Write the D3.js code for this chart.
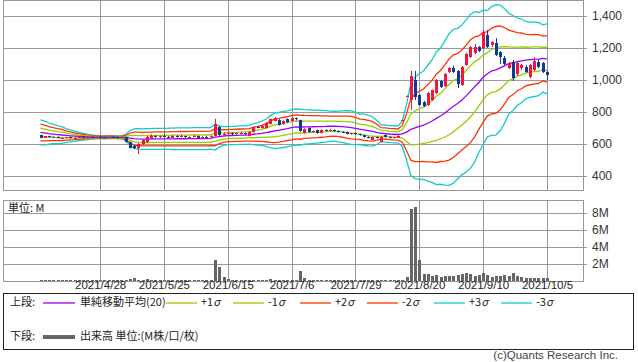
<!DOCTYPE html>
<html>
<head>
<meta charset="utf-8">
<script src="https://cdn.jsdelivr.net/npm/d3@7"></script>
<style>
  body { margin: 0; background: #fff; }
  svg { display: block; font-family: "Noto Sans CJK JP", "Noto Sans", sans-serif; }
  .num { font-family: "Liberation Sans", Arial, sans-serif; }
</style>
</head>
<body>
<div id="chart"></div>
<script>
// ---- data ----
const dateLabels = ['2021/4/28', '2021/5/25', '2021/6/15', '2021/7/6', '2021/7/29', '2021/8/20', '2021/9/10', '2021/10/5'];
const dateIndex = [14, 29, 44, 59, 74, 89, 104, 119];
const priceTicks = [400, 600, 800, 1000, 1200, 1400];
const volTicks = [2, 4, 6, 8];

// closes before the first visible day (feed the 20-day average at the left edge)
const priorCloses = [715, 722, 708, 700, 692, 700, 688, 680, 676, 670, 665, 660, 655, 650, 648, 645, 642, 646, 644];

const opens = [
  655, 640, 648, 643, 646, 638, 640, 643, 637, 640, 645, 638, 642, 640, 646, 642, 639, 645, 643, 640,
  642, 612, 590, 578, 598, 612, 640, 650, 644, 648, 645, 640, 652, 644, 648, 642, 646, 650, 640, 644,
  642, 650, 705, 660, 665, 668, 662, 667, 670, 652, 675, 706, 700, 700, 725, 744, 752, 725, 756, 744,
  760, 750, 669, 700, 676, 687, 669, 687, 684, 690, 680, 676, 675, 664, 668, 660, 656, 644, 628, 642,
  614, 656, 644, 638, 640, 750, 900, 875, 1000, 906, 862, 844, 875, 919, 994, 962, 1050, 1075, 1056, 969,
  1094, 1144, 1169, 1206, 1200, 1281, 1219, 1231, 1175, 1137, 1075, 1112, 1037, 1075, 1081, 1019, 1062, 1112, 1106, 1050
];
const highs = [
  658, 650, 652, 650, 648, 644, 645, 646, 642, 648, 648, 644, 646, 648, 650, 645, 648, 650, 647, 646,
  644, 615, 594, 606, 628, 650, 662, 655, 652, 662, 650, 656, 655, 660, 652, 648, 656, 652, 648, 650,
  654, 758, 712, 672, 675, 672, 670, 676, 672, 680, 710, 712, 716, 735, 760, 768, 756, 748, 760, 766,
  765, 752, 698, 704, 684, 690, 690, 692, 694, 692, 686, 680, 678, 670, 672, 664, 658, 648, 646, 646,
  648, 660, 648, 645, 654, 753, 904, 1058, 1056, 912, 868, 925, 940, 1006, 1000, 1044, 1080, 1090, 1062, 1088,
  1170, 1212, 1225, 1212, 1312, 1312, 1244, 1262, 1180, 1150, 1112, 1125, 1112, 1100, 1094, 1100, 1144, 1131, 1112, 1056
];
const lows = [
  638, 638, 640, 640, 636, 634, 636, 635, 630, 638, 636, 635, 637, 638, 640, 636, 637, 640, 638, 636,
  610, 572, 568, 538, 592, 608, 636, 640, 638, 642, 636, 638, 640, 642, 638, 636, 642, 636, 634, 638,
  640, 648, 650, 655, 660, 656, 658, 662, 658, 648, 672, 698, 696, 696, 722, 740, 715, 720, 732, 740,
  748, 676, 664, 672, 670, 664, 666, 678, 680, 676, 672, 668, 660, 658, 658, 652, 640, 636, 624, 634,
  610, 640, 636, 634, 638, 747, 896, 812, 875, 838, 830, 838, 870, 912, 950, 956, 1044, 1044, 950, 962,
  1088, 1138, 1162, 1175, 1194, 1200, 1206, 1150, 1100, 1094, 1069, 994, 1025, 1062, 1044, 1012, 1056, 1075, 1044, 1000
];
const closes = [
  640, 648, 642, 646, 638, 640, 643, 637, 640, 645, 638, 642, 640, 646, 642, 639, 645, 643, 640, 644,
  614, 578, 575, 600, 622, 645, 650, 644, 648, 645, 640, 652, 644, 648, 642, 646, 650, 640, 644, 642,
  648, 728, 656, 665, 668, 662, 667, 670, 664, 675, 706, 702, 712, 731, 756, 762, 719, 744, 737, 762,
  755, 681, 694, 675, 680, 669, 687, 684, 690, 680, 676, 672, 664, 666, 660, 656, 644, 640, 642, 638,
  644, 644, 638, 642, 650, 750, 900, 1025, 894, 844, 838, 919, 937, 1000, 956, 1037, 1075, 1050, 975, 1081,
  1162, 1206, 1206, 1181, 1300, 1206, 1237, 1156, 1144, 1100, 1106, 1012, 1106, 1094, 1050, 1094, 1119, 1081, 1050, 1031
];
// volume in millions of shares
const volumes = [
  0.03, 0.02, 0.03, 0.02, 0.03, 0.02, 0.02, 0.03, 0.02, 0.03, 0.02, 0.03, 0.02, 0.02, 0.03, 0.02, 0.03, 0.02, 0.03, 0.02,
  0.12, 0.18, 0.30, 0.12, 0.08, 0.20, 0.08, 0.05, 0.14, 0.06, 0.15, 0.04, 0.03, 0.04, 0.03, 0.05, 0.03, 0.04, 0.03, 0.05,
  0.10, 2.50, 1.60, 0.45, 0.20, 0.08, 0.05, 0.04, 0.15, 0.05, 0.04, 0.05, 0.06, 0.15, 0.18, 0.15, 0.05, 0.04, 0.05, 0.04,
  0.05, 1.20, 0.35, 0.08, 0.05, 0.04, 0.03, 0.04, 0.03, 0.03, 0.04, 0.03, 0.03, 0.04, 0.03, 0.03, 0.04, 0.05, 0.04, 0.05,
  0.06, 0.05, 0.04, 0.06, 0.10, 0.12, 0.45, 8.50, 8.70, 2.50, 0.80, 0.80, 0.60, 0.70, 0.50, 0.60, 0.60, 0.60, 0.70, 0.80,
  1.00, 0.80, 0.60, 0.70, 0.95, 0.70, 0.50, 0.55, 0.55, 0.70, 0.60, 1.00, 0.60, 0.45, 0.40, 0.35, 0.35, 0.30, 0.35, 0.30
];

const legendBands = [
  { label: '+1', color: '#99cc00' }, { label: '-1', color: '#99cc00' },
  { label: '+2', color: '#ff3300' }, { label: '-2', color: '#ff3300' },
  { label: '+3', color: '#11cccc' }, { label: '-3', color: '#11cccc' }
];

// ---- Bollinger (20-day simple average, population sigma) ----
const allCloses = priorCloses.concat(closes);
const bands = closes.map((c, i) => {
  const win = allCloses.slice(i, i + 20);
  const mean = d3.mean(win);
  const sd = Math.sqrt(d3.mean(win, v => (v - mean) * (v - mean)));
  return { i, mean, sd };
});

// ---- layout ----
const W = 638, H = 362;
const L = 3, R = 583;
const top1 = 0, bot1 = 190;
const top2 = 200, bot2 = 281;
const UP = '#f2163f', DOWN = '#0e3a9a', GRID = '#999';

const svg = d3.select('#chart').append('svg').attr('width', W).attr('height', H);

const x = d3.scaleLinear().domain([0, 119]).range([40.5, 547]);
const y = d3.scaleLinear().domain([312.5, 1500]).range([bot1, top1]);
const yv = d3.scaleLinear().domain([0, 9.53]).range([bot2, top2]);
const sx = v => Math.round(v) + 0.5;

svg.append('clipPath').attr('id', 'clipTop')
  .append('rect').attr('x', L).attr('y', top1).attr('width', R - L).attr('height', bot1 - top1);

// grids (upper)
const gTop = svg.append('g');
gTop.selectAll('.hg').data(priceTicks).join('line')
  .attr('x1', L).attr('x2', R + 4).attr('y1', d => sx(y(d))).attr('y2', d => sx(y(d)))
  .attr('stroke', GRID);
gTop.selectAll('.vg').data(dateIndex).join('line')
  .attr('x1', d => sx(x(d))).attr('x2', d => sx(x(d))).attr('y1', top1).attr('y2', bot1)
  .attr('stroke', GRID);
gTop.append('rect').attr('x', L + 0.5).attr('y', top1 + 0.5).attr('width', R - L).attr('height', bot1 - top1)
  .attr('fill', 'none').attr('stroke', GRID);

// price axis labels
svg.append('g').attr('transform', `translate(${R},0)`)
  .call(d3.axisRight(y).tickValues(priceTicks).tickFormat(d3.format(',')).tickSize(0).tickPadding(9))
  .call(g => g.select('.domain').remove())
  .selectAll('text').attr('class', 'num').attr('fill', '#333').style('font-size', '12px');

// bands
const plot = svg.append('g').attr('clip-path', 'url(#clipTop)');
const bandDefs = [
  { k: 3, color: '#11cccc' }, { k: -3, color: '#11cccc' },
  { k: 2, color: '#ff3300' }, { k: -2, color: '#ff3300' },
  { k: 1, color: '#99cc00' }, { k: -1, color: '#99cc00' },
  { k: 0, color: '#9900ff' }
];
bandDefs.forEach(b => {
  plot.append('path').datum(bands)
    .attr('fill', 'none').attr('stroke', b.color).attr('stroke-width', 1.3)
    .attr('d', d3.line().x(d => x(d.i)).y(d => y(d.mean + b.k * d.sd)));
});

// candles
const candles = plot.selectAll('.cdl').data(closes.map((c, i) => ({ i, o: opens[i], h: highs[i], l: lows[i], c })))
  .join('g');
candles.append('line')
  .attr('x1', d => sx(x(d.i))).attr('x2', d => sx(x(d.i)))
  .attr('y1', d => y(d.h)).attr('y2', d => y(d.l))
  .attr('stroke', d => d.c >= d.o ? UP : DOWN);
candles.append('rect')
  .attr('x', d => Math.round(x(d.i)) - 1).attr('width', 3)
  .attr('y', d => y(Math.max(d.o, d.c)))
  .attr('height', d => Math.max(1, Math.abs(y(d.o) - y(d.c))))
  .attr('fill', d => d.c >= d.o ? UP : DOWN)
  .attr('shape-rendering', 'crispEdges');

// ---- lower panel: volume ----
const gBot = svg.append('g');
gBot.selectAll('.hg').data(volTicks).join('line')
  .attr('x1', L).attr('x2', R + 4).attr('y1', d => sx(yv(d))).attr('y2', d => sx(yv(d)))
  .attr('stroke', GRID);
gBot.selectAll('.vg').data(dateIndex).join('line')
  .attr('x1', d => sx(x(d))).attr('x2', d => sx(x(d))).attr('y1', top2).attr('y2', bot2)
  .attr('stroke', GRID);
gBot.append('rect').attr('x', L + 0.5).attr('y', top2 + 0.5).attr('width', R - L).attr('height', bot2 - top2)
  .attr('fill', 'none').attr('stroke', GRID);

gBot.selectAll('.vb').data(volumes).join('rect')
  .attr('x', (d, i) => Math.round(x(i)) - 1).attr('width', 3)
  .attr('y', d => Math.min(yv(d), bot2 - 1)).attr('height', d => Math.max(1, bot2 - yv(d)))
  .attr('fill', '#666').attr('shape-rendering', 'crispEdges');

svg.append('g').attr('transform', `translate(${R},0)`)
  .call(d3.axisRight(yv).tickValues(volTicks).tickFormat(d => d + 'M').tickSize(0).tickPadding(9))
  .call(g => g.select('.domain').remove())
  .selectAll('text').attr('class', 'num').attr('fill', '#333').style('font-size', '12px');

svg.append('text').attr('x', 8).attr('y', 209).attr('dominant-baseline', 'middle')
  .attr('font-size', '11px').attr('fill', '#222').text('単位: M');

// date axis
svg.append('g').attr('transform', `translate(0,${bot2})`)
  .call(d3.axisBottom(x).tickValues(dateIndex).tickFormat((d, k) => dateLabels[k]).tickSize(0).tickPadding(0))
  .call(g => g.select('.domain').remove())
  .selectAll('text').attr('class', 'num').attr('fill', '#222').style('font-size', '11.5px');

// ---- legend ----
const lg = svg.append('g').attr('font-size', '11px').attr('fill', '#222');
lg.append('rect').attr('x', 3.5).attr('y', 293.5).attr('width', 630).attr('height', 56)
  .attr('fill', 'none').attr('stroke', '#222');
const row1 = 303, row2 = 337;
lg.append('text').attr('x', 10).attr('y', row1).attr('dominant-baseline', 'middle').text('上段:');
lg.append('line').attr('x1', 43).attr('x2', 75).attr('y1', row1).attr('y2', row1)
  .attr('stroke', '#9900ff').attr('stroke-width', 1.3);
lg.append('text').attr('x', 80).attr('y', row1).attr('dominant-baseline', 'middle').text('単純移動平均(20)');
legendBands.forEach((b, k) => {
  const x0 = 166 + k * 67;
  lg.append('line').attr('x1', x0).attr('x2', x0 + 31).attr('y1', row1).attr('y2', row1)
    .attr('stroke', b.color).attr('stroke-width', 1.3);
  const t = lg.append('text').attr('x', x0 + 35).attr('y', row1).attr('dominant-baseline', 'middle');
  t.append('tspan').text(b.label);
  t.append('tspan').attr('font-style', 'italic').text('σ');
});
lg.append('text').attr('x', 10).attr('y', row2).attr('dominant-baseline', 'middle').text('下段:');
lg.append('line').attr('x1', 43).attr('x2', 75).attr('y1', row2).attr('y2', row2)
  .attr('stroke', '#666').attr('stroke-width', 4);
lg.append('text').attr('x', 80).attr('y', row2).attr('dominant-baseline', 'middle').text('出来高 単位:(M株/口/枚)');

svg.append('text').attr('x', 618).attr('y', 356).attr('text-anchor', 'end').attr('dominant-baseline', 'middle')
  .attr('class', 'num').attr('font-size', '11.5px').attr('fill', '#444').text('(c)Quants Research Inc.');
</script>
</body>
</html>
